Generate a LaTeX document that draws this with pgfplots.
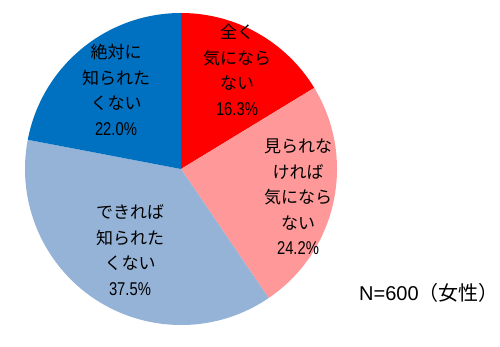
\documentclass[border=0pt]{standalone}
\usepackage{pgfplots}
\pgfplotsset{compat=1.18}
\usepackage{pgfplotstable}
\usepackage{fontspec}
\setmainfont{Noto Sans CJK JP}
\newfontfamily\numfont[FakeStretch=0.8]{Liberation Sans}
\newfontfamily\nfont{Liberation Sans}
\definecolor{cred}{RGB}{255,0,0}
\definecolor{cpink}{RGB}{255,153,153}
\definecolor{clblue}{RGB}{149,179,215}
\definecolor{cblue}{RGB}{0,112,192}
\pgfplotstableread{
label value
A 16.3
B 24.2
C 37.5
D 22.0
}\piedata
\begin{document}
\begin{tikzpicture}
\pgfplotstablegetelem{0}{value}\of\piedata \let\vA\pgfplotsretval
\pgfplotstablegetelem{1}{value}\of\piedata \let\vB\pgfplotsretval
\pgfplotstablegetelem{2}{value}\of\piedata \let\vC\pgfplotsretval
\pgfplotstablegetelem{3}{value}\of\piedata \let\vD\pgfplotsretval
\pgfmathsetmacro\aA{90}
\pgfmathsetmacro\aB{\aA-3.6*\vA}
\pgfmathsetmacro\aC{\aB-3.6*\vB}
\pgfmathsetmacro\aD{\aC-3.6*\vC}
\pgfmathsetmacro\aE{\aD-3.6*\vD}
\begin{axis}[hide axis, clip=false, x=1pt, y=1pt,
  xmin=0, xmax=500, ymin=0, ymax=341, anchor=origin, at={(0,0)}]
\path (axis cs:0,0) rectangle (axis cs:500,341);
\fill[cred] (axis cs:181,172) -- ++(\aA:156pt) arc[start angle=\aA, end angle=\aB, radius=156pt] -- cycle;
\fill[cpink] (axis cs:181,172) -- ++(\aB:156pt) arc[start angle=\aB, end angle=\aC, radius=156pt] -- cycle;
\fill[clblue] (axis cs:181,172) -- ++(\aC:156pt) arc[start angle=\aC, end angle=\aD, radius=156pt] -- cycle;
\fill[cblue] (axis cs:181,172) -- ++(\aD:156pt) arc[start angle=\aD, end angle=\aE, radius=156pt] -- cycle;
\tikzset{lab/.style={align=center, inner sep=0pt, font=\fontsize{17}{25.5}\selectfont}}
\newcommand\pct[1]{{\fontsize{18.5}{25.5}\selectfont\numfont #1\%}}
\node[lab] at (axis cs:237,271) {全く\\気になら\\ない\\\pct{16.3}};
\node[lab] at (axis cs:298,144) {見られな\\ければ\\気になら\\ない\\\pct{24.2}};
\node[lab] at (axis cs:130,91) {できれば\\知られた\\くない\\\pct{37.5}};
\node[lab] at (axis cs:116,251) {絶対に\\知られた\\くない\\\pct{22.0}};
\node[inner sep=0pt, anchor=base west, font=\fontsize{20}{24}\selectfont] at (axis cs:359,40) {{\nfont N=600}（女性）};
\end{axis}
\end{tikzpicture}
\end{document}
